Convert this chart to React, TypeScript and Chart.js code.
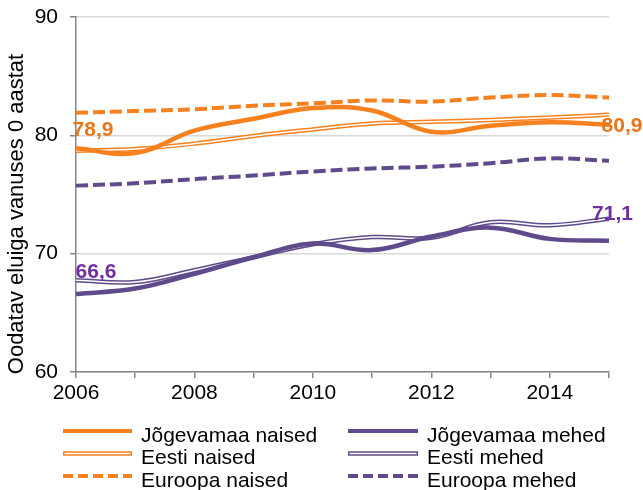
import React, { useEffect, useRef } from 'react';
import { Chart, registerables } from 'chart.js';

Chart.register(...registerables);

const years = ['2006', '2007', '2008', '2009', '2010', '2011', '2012', '2013', '2014', '2015'];
const xTickLabels = ['2006', '2008', '2010', '2012', '2014'];
const yTicks = [60, 70, 80, 90];

const jogevamaaNaised = [78.9, 78.5, 80.4, 81.4, 82.3, 82.1, 80.3, 80.8, 81.1, 80.9];
const eestiNaised = [78.7, 78.85, 79.3, 79.95, 80.5, 81.0, 81.15, 81.3, 81.5, 81.75];
const euroopaNaised = [81.9, 82.05, 82.2, 82.5, 82.7, 82.95, 82.85, 83.2, 83.4, 83.2];
const jogevamaaMehed = [66.6, 67.05, 68.3, 69.7, 70.85, 70.3, 71.45, 72.2, 71.25, 71.1];
const eestiMehed = [67.75, 67.6, 68.6, 69.7, 70.8, 71.4, 71.35, 72.65, 72.4, 72.95];
const euroopaMehed = [75.75, 75.95, 76.3, 76.6, 76.95, 77.2, 77.35, 77.65, 78.05, 77.85];

const yAxisTitle = 'Oodatav eluiga vanuses 0 aastat';
const legendLabels = [
  ['Jõgevamaa naised', 'Eesti naised', 'Euroopa naised'],
  ['Jõgevamaa mehed', 'Eesti mehed', 'Euroopa mehed'],
];

const ORANGE = '#F7811E';
const ORANGE_LABEL = '#E8761A';
const PURPLE = '#5F4B8B';
const PURPLE_LABEL = '#7030A0';
const FONT = "'Liberation Sans', Arial, sans-serif";

const fmt = (v: number) => v.toFixed(1).replace('.', ',');

const labelPlugin = {
  id: 'endLabels',
  afterDatasetsDraw(chart: any) {
    const ctx = chart.ctx;
    const specs = [
      { ds: 0, idx: 0, dx: 17, dy: -20, color: ORANGE_LABEL },
      { ds: 0, idx: years.length - 1, dx: 13, dy: 0, color: ORANGE_LABEL },
      { ds: 4, idx: 0, dx: 20, dy: -24, color: PURPLE_LABEL },
      { ds: 4, idx: years.length - 1, dx: 3.5, dy: -28.5, color: PURPLE_LABEL },
    ];
    ctx.save();
    ctx.font = `bold 21px ${FONT}`;
    ctx.textAlign = 'center';
    ctx.textBaseline = 'alphabetic';
    for (const s of specs) {
      const meta = chart.getDatasetMeta(s.ds);
      const pt = meta.data[s.idx];
      const val = chart.data.datasets[s.ds].data[s.idx] as number;
      ctx.fillStyle = s.color;
      ctx.fillText(fmt(val), pt.x + s.dx, pt.y + s.dy + 7.6);
    }
    ctx.restore();
  },
};

const decorPlugin = {
  id: 'decor',
  afterDraw(chart: any) {
    const ctx = chart.ctx;
    ctx.save();
    ctx.font = `22px ${FONT}`;
    ctx.fillStyle = '#000';
    ctx.translate(17, 214);
    ctx.rotate(-Math.PI / 2);
    ctx.textAlign = 'center';
    ctx.textBaseline = 'middle';
    ctx.fillText(yAxisTitle, 0, 0);
    ctx.restore();

    ctx.save();
    const cols = [
      { x1: 63, x2: 132, tx: 141, color: ORANGE },
      { x1: 348, x2: 418, tx: 427, color: PURPLE },
    ];
    const baselines = [441.5, 464, 486.5];
    ctx.font = `21px ${FONT}`;
    ctx.textAlign = 'left';
    ctx.textBaseline = 'alphabetic';
    cols.forEach((c, ci) => {
      legendLabels[ci].forEach((text, ri) => {
        const ly = baselines[ri] - 10.5;
        ctx.save();
        ctx.lineCap = 'butt';
        if (ri === 0) {
          ctx.strokeStyle = c.color;
          ctx.lineWidth = 4;
          ctx.beginPath(); ctx.moveTo(c.x1, ly); ctx.lineTo(c.x2, ly); ctx.stroke();
        } else if (ri === 1) {
          ctx.strokeStyle = c.color;
          ctx.lineWidth = 4.5;
          ctx.beginPath(); ctx.moveTo(c.x1, ly); ctx.lineTo(c.x2, ly); ctx.stroke();
          ctx.strokeStyle = '#FFFFFF';
          ctx.lineWidth = 1.5;
          ctx.beginPath(); ctx.moveTo(c.x1 + 1.5, ly); ctx.lineTo(c.x2 - 1.5, ly); ctx.stroke();
        } else {
          ctx.strokeStyle = c.color;
          ctx.lineWidth = 4;
          ctx.setLineDash([10, 5]);
          ctx.beginPath(); ctx.moveTo(c.x1, ly); ctx.lineTo(c.x2, ly); ctx.stroke();
        }
        ctx.restore();
        ctx.fillStyle = '#000';
        ctx.fillText(text, c.tx, baselines[ri]);
      });
    });
    ctx.restore();
  },
};

export default function App() {
  const ref = useRef<HTMLCanvasElement | null>(null);

  useEffect(() => {
    document.body.style.margin = '0';
    if (!ref.current) return;
    const solid = (label: string, data: number[], color: string, order: number) => ({
      label, data, borderColor: color, borderWidth: 4.5, tension: 0.4, pointRadius: 0, fill: false, order,
    });
    const chart = new Chart(ref.current, {
      type: 'line',
      data: {
        labels: years,
        datasets: [
          solid('Jõgevamaa naised', jogevamaaNaised, ORANGE, 1),
          { label: 'Eesti naised', data: eestiNaised, borderColor: ORANGE, borderWidth: 4.5, tension: 0.4, pointRadius: 0, order: 4 },
          { label: 'Eesti naised inner', data: eestiNaised, borderColor: '#FFFFFF', borderWidth: 1.5, tension: 0.4, pointRadius: 0, order: 3 },
          { label: 'Euroopa naised', data: euroopaNaised, borderColor: ORANGE, borderWidth: 4, borderDash: [12, 5], tension: 0.4, pointRadius: 0, order: 5 },
          solid('Jõgevamaa mehed', jogevamaaMehed, PURPLE, 2),
          { label: 'Eesti mehed', data: eestiMehed, borderColor: PURPLE, borderWidth: 4.5, tension: 0.4, pointRadius: 0, order: 7 },
          { label: 'Eesti mehed inner', data: eestiMehed, borderColor: '#FFFFFF', borderWidth: 1.5, tension: 0.4, pointRadius: 0, order: 6 },
          { label: 'Euroopa mehed', data: euroopaMehed, borderColor: PURPLE, borderWidth: 4, borderDash: [12, 5], tension: 0.4, pointRadius: 0, order: 8 },
        ] as any,
      },
      options: {
        animation: false,
        responsive: false,
        maintainAspectRatio: false,
        events: [],
        layout: { padding: { top: 17, right: 34, bottom: 78, left: 0 } },
        plugins: { legend: { display: false }, tooltip: { enabled: false } },
        scales: {
          x: {
            type: 'category',
            offset: false,
            grid: { drawOnChartArea: false, drawTicks: true, tickLength: 6, color: '#868686', lineWidth: 1.5 },
            border: { display: true, color: '#868686', width: 1.5 },
            ticks: {
              autoSkip: false,
              maxRotation: 0,
              padding: 3,
              color: '#000',
              font: { size: 21, family: FONT },
              callback: (_v: any, i: number) => (xTickLabels.includes(years[i]) ? years[i] : ''),
            },
            afterFit: (s: any) => { s.height = 40; s.paddingLeft = 0; s.paddingRight = 0; },
          },
          y: {
            min: 60,
            max: 90,
            afterBuildTicks: (s: any) => { s.ticks = yTicks.map((v) => ({ value: v })); },
            grid: { color: '#D9D9D9', lineWidth: 1.5, tickColor: '#868686', tickLength: 6, drawTicks: true },
            border: { display: true, color: '#868686', width: 1.5 },
            ticks: { padding: 12, color: '#000', font: { size: 21, family: FONT } },
            afterFit: (s: any) => { s.width = 76; s.paddingTop = 0; s.paddingBottom = 0; },
          },
        },
      } as any,
      plugins: [labelPlugin, decorPlugin],
    });
    return () => chart.destroy();
  }, []);

  return (
    <div style={{ width: 643, height: 490, position: 'relative' }}>
      <canvas ref={ref} width={643} height={490} style={{ display: 'block' }} />
    </div>
  );
}
